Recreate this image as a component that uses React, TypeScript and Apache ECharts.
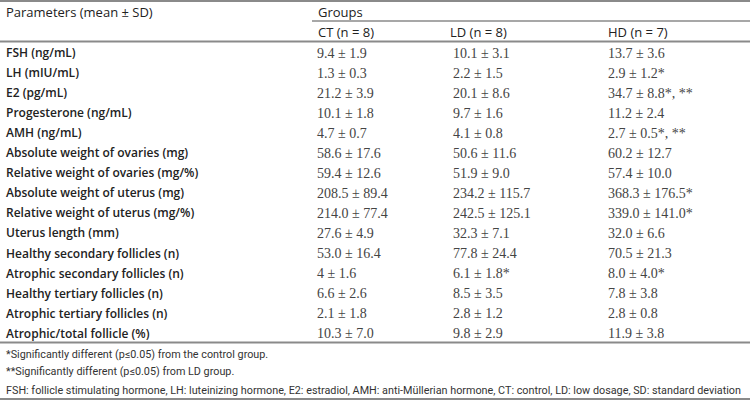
import React, { useEffect, useRef } from "react";
import * as echarts from "echarts";

const parameters = [
  "FSH (ng/mL)",
  "LH (mIU/mL)",
  "E2 (pg/mL)",
  "Progesterone (ng/mL)",
  "AMH (ng/mL)",
  "Absolute weight of ovaries (mg)",
  "Relative weight of ovaries (mg/%)",
  "Absolute weight of uterus (mg)",
  "Relative weight of uterus (mg/%)",
  "Uterus length (mm)",
  "Healthy secondary follicles (n)",
  "Atrophic secondary follicles (n)",
  "Healthy tertiary follicles (n)",
  "Atrophic tertiary follicles (n)",
  "Atrophic/total follicle (%)",
];
const ctValues = [
  "9.4 ± 1.9", "1.3 ± 0.3", "21.2 ± 3.9", "10.1 ± 1.8", "4.7 ± 0.7",
  "58.6 ± 17.6", "59.4 ± 12.6", "208.5 ± 89.4", "214.0 ± 77.4", "27.6 ± 4.9",
  "53.0 ± 16.4", "4 ± 1.6", "6.6 ± 2.6", "2.1 ± 1.8", "10.3 ± 7.0",
];
const ldValues = [
  "10.1 ± 3.1", "2.2 ± 1.5", "20.1 ± 8.6", "9.7 ± 1.6", "4.1 ± 0.8",
  "50.6 ± 11.6", "51.9 ± 9.0", "234.2 ± 115.7", "242.5 ± 125.1", "32.3 ± 7.1",
  "77.8 ± 24.4", "6.1 ± 1.8*", "8.5 ± 3.5", "2.8 ± 1.2", "9.8 ± 2.9",
];
const hdValues = [
  "13.7 ± 3.6", "2.9 ± 1.2*", "34.7 ± 8.8*, **", "11.2 ± 2.4", "2.7 ± 0.5*, **",
  "60.2 ± 12.7", "57.4 ± 10.0", "368.3 ± 176.5*", "339.0 ± 141.0*", "32.0 ± 6.6",
  "70.5 ± 21.3", "8.0 ± 4.0*", "7.8 ± 3.8", "2.8 ± 0.8", "11.9 ± 3.8",
];
const headerTitle = "Parameters (mean ± SD)";
const groupsTitle = "Groups";
const groupHeaders = ["CT (n = 8)", "LD (n = 8)", "HD (n = 7)"];
const footnotes = [
  "*Significantly different (p≤0.05) from the control group.",
  "**Significantly different (p≤0.05) from LD group.",
  "FSH: follicle stimulating hormone, LH: luteinizing hormone, E2: estradiol, AMH: anti-Müllerian hormone, CT: control, LD: low dosage, SD: standard deviation",
];

export default function App() {
  const ref = useRef<HTMLDivElement>(null);
  useEffect(() => {
    document.body.style.margin = "0";
    if (!ref.current) return;
    const chart = echarts.init(ref.current, null, { renderer: "svg" });
    const colX = [317, 453, 608];
    const rowY0 = 52.5;
    const rowStep = 20.05;
    const labelFont = "'Open Sans', sans-serif";
    const valueFont = "'Liberation Serif', serif";
    const noteFont = "'Liberation Sans Narrow', 'Roboto', sans-serif";
    const lineColor = "#8a8a8a";
    const els: any[] = [];
    const text = (x: number, y: number, t: string, font: string, size: number, weight: any, color: string) => ({
      type: "text",
      x,
      y,
      silent: true,
      style: {
        text: t,
        fontFamily: font,
        fontSize: size,
        fontWeight: weight,
        fill: color,
        textAlign: "left",
        textVerticalAlign: "middle",
      },
    });
    const hline = (x1: number, x2: number, y: number, w: number) => ({
      type: "line",
      silent: true,
      shape: { x1, y1: y, x2, y2: y },
      style: { stroke: lineColor, lineWidth: w },
    });
    els.push(hline(0, 750, 1, 2));
    els.push(hline(312, 750, 21, 1.5));
    els.push(hline(0, 750, 41.5, 2));
    els.push(hline(0, 750, 342.5, 2));
    els.push(hline(0, 750, 399, 2));
    els.push(text(6, 12, headerTitle, labelFont, 13, 400, "#222"));
    els.push(text(318, 12, groupsTitle, labelFont, 13, 400, "#222"));
    const headX = [318, 450, 608];
    groupHeaders.forEach((g, i) => els.push(text(headX[i], 32, g, labelFont, 13, 400, "#222")));
    parameters.forEach((p, i) => {
      const y = rowY0 + rowStep * i;
      els.push(text(6, y, p, labelFont, 12, 600, "#222"));
      els.push(text(colX[0], y + 0.5, ctValues[i], valueFont, 14, 400, "#444"));
      els.push(text(colX[1], y + 0.5, ldValues[i], valueFont, 14, 400, "#444"));
      els.push(text(colX[2], y + 0.5, hdValues[i], valueFont, 14, 400, "#444"));
    });
    const noteY = [354, 371, 390];
    footnotes.forEach((f, i) => els.push(text(6, noteY[i], f, noteFont, 10.8, 400, "#333")));
    chart.setOption({
      animation: false,
      backgroundColor: "#fff",
      graphic: { elements: els },
    });
    return () => chart.dispose();
  }, []);
  return <div ref={ref} style={{ width: 750, height: 401 }} />;
}
